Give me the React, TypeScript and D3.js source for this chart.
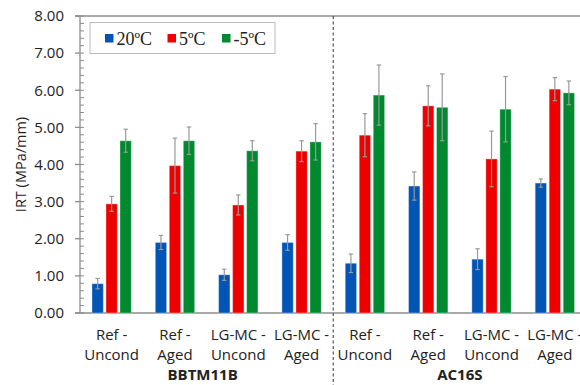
import React from 'react';
import * as d3 from 'd3';

// categories along the x axis (two text lines each)
const categories = ['BB-RU', 'BB-RA', 'BB-LU', 'BB-LA', 'AC-RU', 'AC-RA', 'AC-LU', 'AC-LA'];
const catLine1 = ['Ref -', 'Ref -', 'LG-MC -', 'LG-MC -', 'Ref -', 'Ref -', 'LG-MC -', 'LG-MC -'];
const catLine2 = ['Uncond', 'Aged', 'Uncond', 'Aged', 'Uncond', 'Aged', 'Uncond', 'Aged'];
const mixtures = ['BBTM11B', 'AC16S'];

const seriesNames = ['20ºC', '5ºC', '-5ºC'];
const seriesColors = ['#0055b5', '#ee0000', '#00892f'];

// mean values per series
const values20 = [0.79, 1.90, 1.03, 1.90, 1.34, 3.42, 1.45, 3.50];
const values5 = [2.94, 3.97, 2.91, 4.36, 4.79, 5.58, 4.15, 6.03];
const valuesM5 = [4.64, 4.64, 4.37, 4.61, 5.87, 5.54, 5.49, 5.93];

// error bar half-widths per series
const err20 = [0.14, 0.19, 0.15, 0.21, 0.25, 0.38, 0.28, 0.11];
const err5 = [0.20, 0.74, 0.27, 0.28, 0.58, 0.54, 0.75, 0.31];
const errM5 = [0.31, 0.37, 0.27, 0.49, 0.81, 0.90, 0.88, 0.32];

const yTicks = [0, 1, 2, 3, 4, 5, 6, 7, 8];

export default function App() {
  const width = 580;
  const height = 385;
  const left = 80;
  const right = 586.5;
  const top = 16;
  const bottom = 313;

  const allValues = [values20, values5, valuesM5];
  const allErr = [err20, err5, errM5];

  const x0 = d3.scaleBand().domain(categories).range([left, right]).padding(0);
  const x1 = d3.scaleBand()
    .domain(seriesNames)
    .range([0, x0.bandwidth()])
    .paddingInner(0.19)
    .paddingOuter(0.855);
  const y = d3.scaleLinear().domain([0, 8]).range([bottom, top]);

  const minorTicks = d3.range(0, 8.001, 0.2);
  const midX = x0(categories[4]);

  const axisColor = '#8c8c8c';
  const font = '"Open Sans", sans-serif';

  return (
    <div style={{ position: 'absolute', left: 0, top: 0 }}>
      <svg width={width} height={height} style={{ display: 'block', background: '#fff' }}>
        {/* top frame and axes */}
        <line x1={left - 5} x2={width} y1={top} y2={top} stroke={axisColor} strokeWidth={1.3} />
        <line x1={left - 5} x2={width} y1={bottom} y2={bottom} stroke={axisColor} strokeWidth={1.3} />
        <line x1={left} x2={left} y1={top} y2={bottom} stroke={axisColor} strokeWidth={1.3} />

        {minorTicks.map((t, i) => (
          <line key={'m' + i} x1={left} x2={left + 4} y1={y(t)} y2={y(t)} stroke={axisColor} strokeWidth={1} />
        ))}
        {yTicks.map(t => (
          <g key={t}>
            <line x1={left - 5} x2={left} y1={y(t)} y2={y(t)} stroke={axisColor} strokeWidth={1.3} />
            <text x={64} y={y(t)} dy="0.35em" textAnchor="end" fontSize={15} fontFamily={font} fill="#222">
              {t.toFixed(2)}
            </text>
          </g>
        ))}

        <text
          transform={`translate(21, ${(top + bottom) / 2}) rotate(-90)`}
          textAnchor="middle"
          dy="0.35em"
          fontSize={14.5}
          fontFamily={font}
          fill="#222"
        >
          IRT (MPa/mm)
        </text>

        {/* bars */}
        {categories.map((c, ci) => (
          <g key={c} transform={`translate(${x0(c)}, 0)`}>
            {seriesNames.map((s, si) => {
              const v = allValues[si][ci];
              const e = allErr[si][ci];
              const bx = x1(s);
              const cx = bx + x1.bandwidth() / 2;
              return (
                <g key={s}>
                  <rect
                    x={bx}
                    y={y(v)}
                    width={x1.bandwidth()}
                    height={y(0) - y(v)}
                    fill={seriesColors[si]}
                    stroke="#ffffff"
                    strokeOpacity={0.35}
                    strokeWidth={1}
                  />
                  <line x1={cx} x2={cx} y1={y(v + e)} y2={y(v - e)} stroke="#999" strokeWidth={1.2} />
                  <line x1={cx - 2.2} x2={cx + 2.2} y1={y(v + e)} y2={y(v + e)} stroke="#999" strokeWidth={1.2} />
                  <line x1={cx - 2.2} x2={cx + 2.2} y1={y(v - e)} y2={y(v - e)} stroke="#999" strokeWidth={1.2} />
                </g>
              );
            })}
            <text x={x0.bandwidth() / 2} y={340} textAnchor="middle" fontSize={15} fontFamily={font} fill="#222">
              {catLine1[ci]}
            </text>
            <text x={x0.bandwidth() / 2} y={360} textAnchor="middle" fontSize={15} fontFamily={font} fill="#222">
              {catLine2[ci]}
            </text>
          </g>
        ))}

        {/* mixture separator and labels */}
        <line x1={midX} x2={midX} y1={top} y2={height} stroke="#555" strokeWidth={1.2} strokeDasharray="3,2.5" />
        {mixtures.map((m, i) => (
          <text
            key={m}
            x={i === 0 ? (left + midX) / 2 - 4 : (midX + right) / 2}
            y={380}
            textAnchor="middle"
            fontSize={15}
            fontWeight="bold"
            fontFamily={font}
            fill="#222"
          >
            {m}
          </text>
        ))}

        {/* legend */}
        <rect x={90} y={22.5} width={185} height={31} fill="#fff" stroke="#bbb" strokeWidth={1} />
        {seriesNames.map((s, i) => {
          const lx = [105, 167.5, 222][i];
          return (
            <g key={s}>
              <rect x={lx} y={34} width={8.5} height={8.5} fill={seriesColors[i]} />
              <text x={lx + 11.5} y={44.5} fontSize={18} fontFamily='"Liberation Serif", serif' fill="#222">
                {s}
              </text>
            </g>
          );
        })}
      </svg>
    </div>
  );
}
